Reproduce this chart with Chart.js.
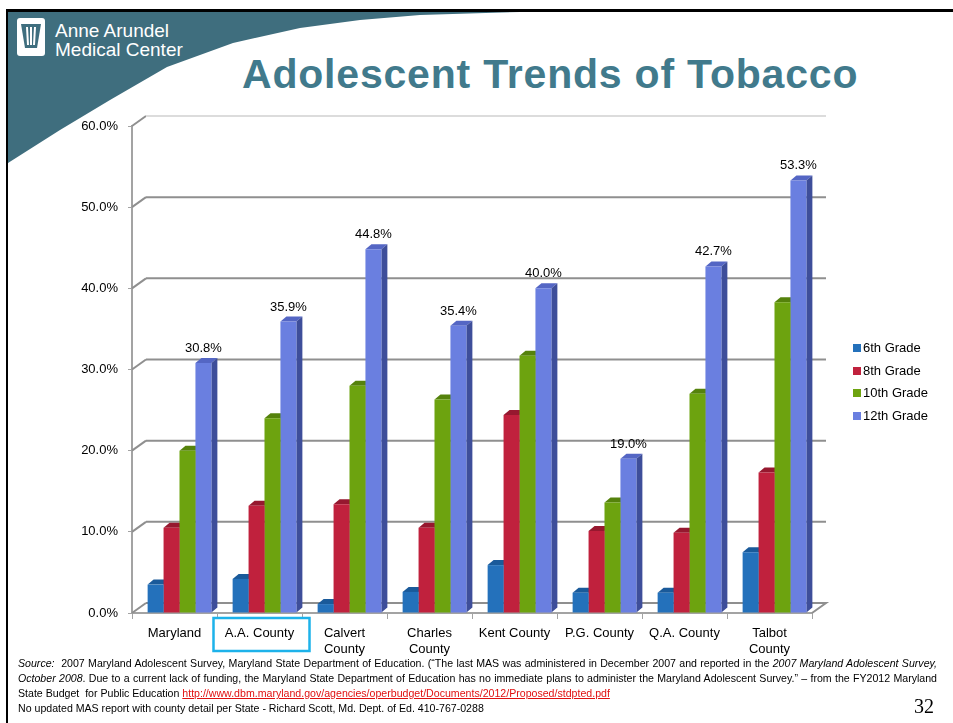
<!DOCTYPE html>
<html>
<head>
<meta charset="utf-8">
<title>Adolescent Trends of Tobacco</title>
<script src="https://cdn.jsdelivr.net/npm/chart.js@4.4.1/dist/chart.umd.min.js"></script>
<style>
  body { margin: 0; width: 953px; height: 723px; position: relative; overflow: hidden; background: #fff;
         font-family: Arial, "Liberation Sans", sans-serif; }
  #frame { position: absolute; left: 6px; top: 9px; width: 960px; height: 720px;
           border-left: 2px solid #000; border-top: 3px solid #000; }
  #header { position: absolute; left: 0; top: 0; }
  h1 { position: absolute; left: 242px; top: 55px; margin: 0; font: bold 41px/38px Arial, "Liberation Sans", sans-serif;
       letter-spacing: 0.8px; color: #417a8c; white-space: nowrap; }
  #chart { position: absolute; left: 0; top: 0; }
  #legend { position: absolute; left: 853px; top: 338px; font-size: 13px; color: #000; }
  #legend div { height: 22.5px; line-height: 20px; white-space: nowrap; }
  #legend span { display: inline-block; width: 8px; height: 8px; margin-right: 2px; }
  #notes { position: absolute; left: 18px; top: 656px; width: 919px; font-size: 10.6px; line-height: 15px; color: #000; }
  #notes .j { text-align: justify; text-align-last: justify; white-space: nowrap; }
  #notes a { color: #e01010; text-decoration: underline; }
  #page { position: absolute; left: 914px; top: 695px; font: 20px "Liberation Serif", "Times New Roman", serif; }
</style>
</head>
<body>
<div id="frame"></div>
<svg id="header" width="953" height="200">
  <polygon fill="#3f6e7e" points="8,12 520,12 420,15 360,20 300,28 233,43 167,67 110,100 60,130 8,163"/>
  <!-- lantern mark -->
  <rect x="17" y="18" width="28" height="38" rx="3" fill="#fff"/>
  <path d="M21,24 H41 L37,48 H25 Z" fill="#3f6e7e"/>
  <path d="M27,27 L28,45 M31,27 V45 M35,27 L34,45" stroke="#fff" stroke-width="2"/>
  <text x="55" y="37" fill="#fff" font-family="Arial, 'Liberation Sans', sans-serif" font-size="19">Anne Arundel</text>
  <text x="55" y="56" fill="#fff" font-family="Arial, 'Liberation Sans', sans-serif" font-size="19">Medical Center</text>
</svg>
<h1>Adolescent Trends of Tobacco</h1>
<canvas id="chart" width="953" height="723"></canvas>
<div id="legend"></div>
<div id="notes">
  <div class="j"><i>Source:</i>&nbsp; 2007 Maryland Adolescent Survey, Maryland State Department of Education. (“The last MAS was administered in December 2007 and reported in the <i>2007 Maryland Adolescent Survey,</i></div>
  <div class="j"><i>October 2008</i>. Due to a current lack of funding, the Maryland State Department of Education has no immediate plans to administer the Maryland Adolescent Survey.” – from the FY2012 Maryland</div>
  <div>State Budget&nbsp; for Public Education <a>http://www.dbm.maryland.gov/agencies/operbudget/Documents/2012/Proposed/stdpted.pdf</a></div>
  <div>No updated MAS report with county detail per State - Richard Scott, Md. Dept. of Ed. 410-767-0288</div>
</div>
<div id="page">32</div>

<script>
// county labels (multi-line where the slide wraps them)
const counties = ['Maryland', 'A.A. County', ['Calvert', 'County'], ['Charles', 'County'],
                  'Kent County', 'P.G. County', 'Q.A. County', ['Talbot', 'County']];
const grades = ['6th Grade', '8th Grade', '10th Grade', '12th Grade'];

// percent of students using tobacco
const grade6  = [3.5, 4.2, 1.1, 2.6, 5.9, 2.5, 2.5, 7.5];
const grade8  = [10.5, 13.2, 13.4, 10.5, 24.4, 10.1, 9.9, 17.3];
const grade10 = [20.0, 24.0, 28.0, 26.3, 31.7, 13.6, 27.0, 38.3];
const grade12 = [30.8, 35.9, 44.8, 35.4, 40.0, 19.0, 42.7, 53.3];

const yTicks = [0, 10, 20, 30, 40, 50, 60];

const frontColors = ['#2471bb', '#c0213d', '#6da30f', '#6a7fe0'];
const topColors   = ['#1a5a9a', '#96182f', '#55820c', '#5466c4'];
const sideColors  = ['#17497d', '#7e1426', '#466c0a', '#3e4e9a'];

// offsets for the fake 3d look
const WALL_DX = 14, WALL_DY = -10;
const BAR_DX = 6, BAR_DY = -5;
const BAR_SHIFT = 5; // bars stand a little way into the depth

const depth3d = {
  id: 'depth3d',
  beforeDatasetsDraw(chart) {
    const { ctx, chartArea: { left, right }, scales: { y } } = chart;
    ctx.save();
    ctx.lineWidth = 2;
    yTicks.forEach(v => {
      const py = y.getPixelForValue(v);
      ctx.strokeStyle = '#8f8f8f';
      ctx.beginPath();
      ctx.moveTo(left, py);
      ctx.lineTo(left + WALL_DX, py + WALL_DY);
      ctx.stroke();
      ctx.strokeStyle = v === 60 ? '#dcdcdc' : '#8f8f8f';
      ctx.beginPath();
      ctx.moveTo(left + WALL_DX, py + WALL_DY);
      ctx.lineTo(right + WALL_DX, py + WALL_DY);
      if (v === 0) ctx.lineTo(right, py);
      ctx.stroke();
    });
    ctx.restore();

    // left open on purpose: restored in afterDatasetsDraw
    ctx.save();
    ctx.translate(BAR_SHIFT, 0);

    // top and side faces go under the front faces, so neighbours hide them
    chart.data.datasets.forEach((ds, i) => {
      chart.getDatasetMeta(i).data.forEach(bar => {
        const { x, y: top, base, width } = bar.getProps(['x', 'y', 'base', 'width'], true);
        const l = x - width / 2, r = x + width / 2;
        ctx.fillStyle = topColors[i];
        ctx.beginPath();
        ctx.moveTo(l, top);
        ctx.lineTo(l + BAR_DX, top + BAR_DY);
        ctx.lineTo(r + BAR_DX, top + BAR_DY);
        ctx.lineTo(r, top);
        ctx.closePath();
        ctx.fill();
        ctx.fillStyle = sideColors[i];
        ctx.beginPath();
        ctx.moveTo(r, top);
        ctx.lineTo(r + BAR_DX, top + BAR_DY);
        ctx.lineTo(r + BAR_DX, base + BAR_DY);
        ctx.lineTo(r, base);
        ctx.closePath();
        ctx.fill();
      });
    });
  },
  afterDatasetsDraw(chart) {
    // value labels over the 12th grade bars
    const { ctx } = chart;
    const last = chart.data.datasets.length - 1;
    ctx.font = '13px Arial, "Liberation Sans", sans-serif';
    ctx.fillStyle = '#000';
    ctx.textAlign = 'center';
    ctx.textBaseline = 'bottom';
    chart.getDatasetMeta(last).data.forEach((bar, i) => {
      const v = chart.data.datasets[last].data[i];
      ctx.fillText(v.toFixed(1) + '%', bar.x, bar.y + BAR_DY - 3);
    });
    ctx.restore();
  },
  afterDraw(chart) {
    // highlight box around A.A. County
    const { ctx, chartArea: { bottom }, scales: { x } } = chart;
    const cx = x.getPixelForValue(1);
    ctx.save();
    ctx.strokeStyle = '#1db2ea';
    ctx.lineWidth = 2.5;
    ctx.strokeRect(cx - 46, bottom + 5, 96, 33);
    ctx.restore();
  }
};

const seriesData = [grade6, grade8, grade10, grade12];

new Chart(document.getElementById('chart'), {
  type: 'bar',
  data: {
    labels: counties,
    datasets: grades.map((g, i) => ({
      label: g,
      data: seriesData[i],
      backgroundColor: frontColors[i],
      borderWidth: 0,
      barPercentage: 1,
      categoryPercentage: 0.75
    }))
  },
  options: {
    responsive: false,
    animation: false,
    layout: { padding: { left: 72, right: 141, top: 126, bottom: 60 } },
    plugins: { legend: { display: false }, tooltip: { enabled: false } },
    scales: {
      x: {
        afterFit: s => { s.height = 50; },
        border: { color: '#a3a3a3', width: 2 },
        grid: { drawOnChartArea: false, color: '#a3a3a3', tickLength: 6, offset: true },
        ticks: { color: '#000', padding: 7, font: { size: 13, family: 'Arial, "Liberation Sans", sans-serif' } }
      },
      y: {
        min: 0,
        max: 60,
        afterFit: s => { s.width = 60; },
        afterBuildTicks: s => { s.ticks = yTicks.map(v => ({ value: v })); },
        border: { color: '#a3a3a3', width: 2 },
        grid: { drawOnChartArea: false, color: '#a3a3a3', tickLength: 4 },
        ticks: {
          color: '#000',
          padding: 10,
          font: { size: 13, family: 'Arial, "Liberation Sans", sans-serif' },
          callback: v => v.toFixed(1) + '%'
        }
      }
    }
  },
  plugins: [depth3d]
});

// legend built from the same series names and colours
document.getElementById('legend').innerHTML = grades.map((g, i) =>
  `<div><span style="background:${frontColors[i]}"></span>${g}</div>`).join('');
</script>
</body>
</html>
